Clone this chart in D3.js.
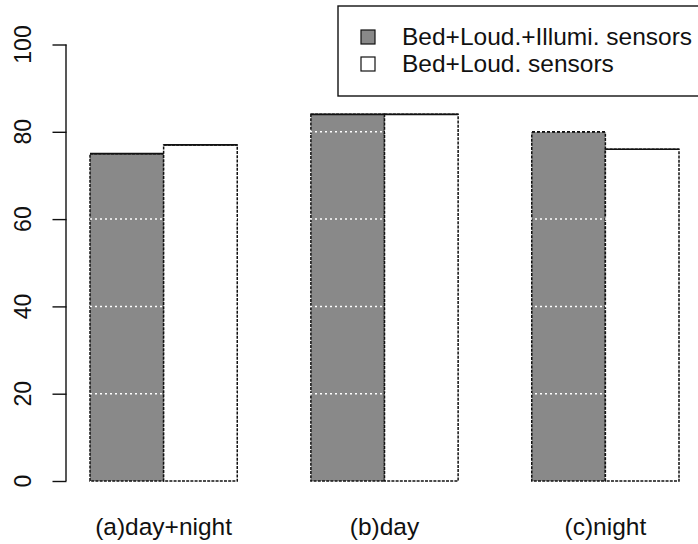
<!DOCTYPE html>
<html>
<head>
<meta charset="utf-8">
<script src="https://cdn.jsdelivr.net/npm/d3@7"></script>
<style>
  body { margin: 0; background: #fff; }
  svg { display: block; font-family: "Liberation Sans", Arial, sans-serif; }
</style>
</head>
<body>
<div id="chart"></div>
<script>
const groups = ["(a)day+night", "(b)day", "(c)night"];
const seriesNames = ["Bed+Loud.+Illumi. sensors", "Bed+Loud. sensors"];
const withIllumi = [75, 84, 80];
const withoutIllumi = [77, 84, 76];
const yTicks = [0, 20, 40, 60, 80, 100];
const gridTicks = [20, 40, 60, 80];

const width = 698, height = 544;
const colors = ["#898989", "#ffffff"];

const svg = d3.select("#chart").append("svg")
  .attr("width", width)
  .attr("height", height);

const y = d3.scaleLinear().domain([0, 100]).range([481, 44.5]);

const x0 = d3.scaleBand().domain(groups).range([90, 679])
  .paddingInner(1 / 3).paddingOuter(0);
const x1 = d3.scaleBand().domain([0, 1]).range([0, x0.bandwidth()]).padding(0);

const rows = groups.map((g, i) => ({ g: g, vals: [withIllumi[i], withoutIllumi[i]] }));

// bars
const bars = svg.append("g").selectAll("g")
  .data(rows).join("g")
  .attr("transform", d => `translate(${x0(d.g)},0)`);

bars.selectAll("rect")
  .data(d => d.vals.map((v, k) => ({ k: k, v: v })))
  .join("rect")
  .attr("x", d => x1(d.k))
  .attr("y", d => y(d.v))
  .attr("width", x1.bandwidth())
  .attr("height", d => y(0) - y(d.v))
  .attr("fill", d => colors[d.k])
  .attr("stroke", "#111")
  .attr("stroke-width", 1.5)
  .attr("stroke-dasharray", "3,1.2");

bars.selectAll("line.top")
  .data(d => d.vals.map((v, k) => ({ k: k, v: v })))
  .join("line")
  .attr("class", "top")
  .attr("x1", d => x1(d.k))
  .attr("x2", d => x1(d.k) + x1.bandwidth())
  .attr("y1", d => y(d.v))
  .attr("y2", d => y(d.v))
  .attr("stroke", "#111")
  .attr("stroke-width", 1.7);

// white dotted grid over the bars
svg.append("g").selectAll("line")
  .data(gridTicks).join("line")
  .attr("x1", 90).attr("x2", 679)
  .attr("y1", d => y(d)).attr("y2", d => y(d))
  .attr("stroke", "#fff")
  .attr("stroke-width", 1.5)
  .attr("stroke-dasharray", "2,3");

// y axis
const yAxis = svg.append("g")
  .attr("transform", "translate(66.5,0)")
  .call(d3.axisLeft(y).tickValues(yTicks).tickSize(14).tickFormat(""));
yAxis.select(".domain").attr("stroke", "#111").attr("stroke-width", 1.4).attr("d", `M-0.5,${y(0)}V${y(100)}`);
yAxis.selectAll(".tick line").attr("stroke", "#111").attr("stroke-width", 1.4);

svg.append("g").selectAll("text")
  .data(yTicks).join("text")
  .attr("transform", d => `translate(31,${y(d)}) rotate(-90)`)
  .attr("text-anchor", "middle")
  .attr("font-size", 23)
  .attr("fill", "#111")
  .text(d => d);

// x labels
svg.append("g").selectAll("text")
  .data(groups).join("text")
  .attr("x", d => x0(d) + x0.bandwidth() / 2)
  .attr("y", 535)
  .attr("text-anchor", "middle")
  .attr("font-size", 24.5)
  .attr("fill", "#111")
  .text(d => d);

// legend
const legend = svg.append("g");
legend.append("rect")
  .attr("x", 338).attr("y", 6)
  .attr("width", 380).attr("height", 90)
  .attr("fill", "#fff")
  .attr("stroke", "#111")
  .attr("stroke-width", 1.4);

const items = legend.selectAll("g.item")
  .data(seriesNames).join("g")
  .attr("class", "item")
  .attr("transform", (d, i) => `translate(0,${i * 27})`);

items.append("rect")
  .attr("x", 361).attr("y", 30)
  .attr("width", 14).attr("height", 14)
  .attr("fill", (d, i) => colors[i])
  .attr("stroke", "#111")
  .attr("stroke-width", 1.2);

items.append("text")
  .attr("x", 402).attr("y", 45)
  .attr("font-size", 24.5)
  .attr("fill", "#111")
  .text(d => d);
</script>
</body>
</html>
